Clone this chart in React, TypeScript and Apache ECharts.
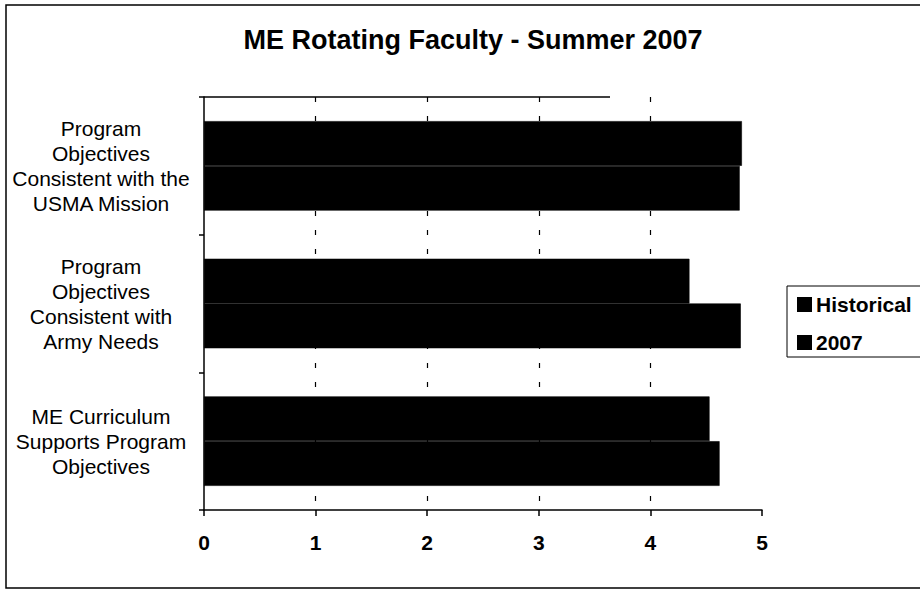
import React, { useEffect, useRef } from "react";
import * as echarts from "echarts";

const categories = [
  "ME Curriculum\nSupports Program\nObjectives",
  "Program\nObjectives\nConsistent with\nArmy Needs",
  "Program\nObjectives\nConsistent with the\nUSMA Mission",
];
const historical = [4.62, 4.81, 4.8];
const y2007 = [4.53, 4.35, 4.82];
const legendNames = ["Historical", "2007"];
const xTicks = { min: 0, max: 5, interval: 1 };
const titleText = "ME Rotating Faculty - Summer 2007";

const FONT = '"Liberation Sans", Arial, Helvetica, sans-serif';

export default function App() {
  const ref = useRef<HTMLDivElement>(null);
  useEffect(() => {
    if (!ref.current) return;
    const chart = echarts.init(ref.current, null, { renderer: "svg" });
    chart.setOption({
      animation: false,
      backgroundColor: "#ffffff",
      textStyle: { fontFamily: FONT, color: "#000" },
      title: {
        text: titleText,
        left: 473,
        top: 26,
        textAlign: "center",
        padding: 0,
        textStyle: { fontFamily: FONT, fontSize: 27, fontWeight: "bold", color: "#000" },
      },
      legend: {
        orient: "vertical",
        left: 787,
        top: 286,
        padding: [8, 40, 4, 10],
        borderColor: "#000",
        borderWidth: 1,
        itemWidth: 13,
        itemHeight: 13,
        itemGap: 17,
        icon: "rect",
        textStyle: { fontFamily: FONT, fontSize: 21, fontWeight: "bold", color: "#000" },
        data: legendNames,
      },
      grid: { left: 204, right: 158, top: 97, bottom: 101, containLabel: false },
      xAxis: {
        type: "value",
        min: xTicks.min,
        max: xTicks.max,
        interval: xTicks.interval,
        axisLine: { show: true, lineStyle: { color: "#000", width: 1.5 } },
        axisTick: { show: true, length: 6, lineStyle: { color: "#000", width: 1.5 } },
        axisLabel: {
          margin: 22,
          fontFamily: FONT,
          fontSize: 21,
          fontWeight: "bold",
          color: "#000",
        },
        splitLine: {
          show: true,
          showMinLine: false,
          showMaxLine: false,
          lineStyle: { color: "#000", width: 1.2, type: [5, 14] },
        },
      },
      yAxis: {
        type: "category",
        data: categories,
        axisLine: { show: true, lineStyle: { color: "#000", width: 1.5 } },
        axisTick: { show: true, length: 5, alignWithLabel: false, lineStyle: { color: "#000", width: 1.5 } },
        axisLabel: {
          margin: 103,
          align: "center",
          fontFamily: FONT,
          fontSize: 21,
          lineHeight: 25,
          color: "#000",
        },
        splitLine: { show: false },
      },
      series: [
        {
          name: "2007",
          type: "bar",
          data: y2007,
          barGap: "0%",
          barCategoryGap: "35%",
          itemStyle: { color: "#000", borderColor: "#000", borderWidth: 0.6 },
        },
        {
          name: "Historical",
          type: "bar",
          data: historical,
          barGap: "0%",
          barCategoryGap: "35%",
          itemStyle: { color: "#000", borderColor: "#000", borderWidth: 0.6 },
        },
      ],
      graphic: [
        {
          type: "rect",
          shape: { x: 6, y: 5, width: 930, height: 583 },
          style: { fill: "none", stroke: "#000", lineWidth: 1.5 },
          silent: true,
        },
        {
          type: "line",
          shape: { x1: 204, y1: 97, x2: 610, y2: 97 },
          style: { stroke: "#000", lineWidth: 1.5 },
          silent: true,
        },
      ],
    });
    return () => chart.dispose();
  }, []);
  return (
    <div
      ref={ref}
      style={{ position: "absolute", left: 0, top: 0, width: 920, height: 611, background: "#fff" }}
    />
  );
}
